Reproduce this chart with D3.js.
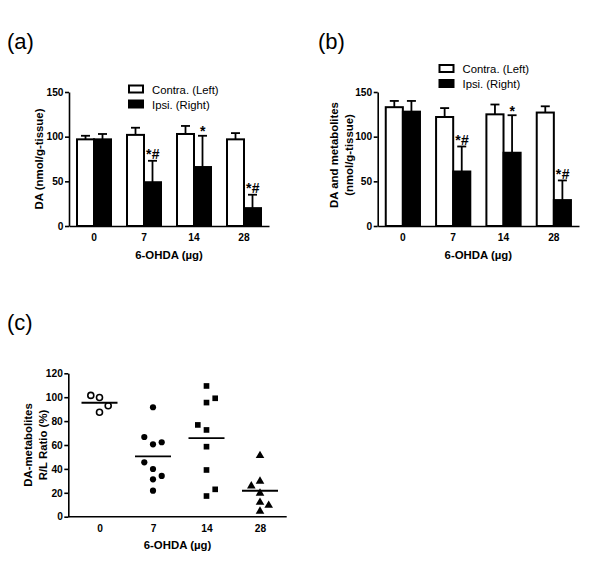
<!DOCTYPE html>
<html><head><meta charset="utf-8">
<script src="https://cdn.jsdelivr.net/npm/d3@7"></script>
<style>body{margin:0;background:#fff} svg{display:block} text{font-family:"Liberation Sans",Arial,sans-serif;fill:#000}</style>
</head><body><svg id="c" width="600" height="566"></svg>
<script>
// ---------- data ----------
const categories = ["0", "7", "14", "28"];
const seriesNames = ["Contra. (Left)", "Ipsi. (Right)"];
const barTicks = [0, 50, 100, 150];
const ratioTicks = [0, 20, 40, 60, 80, 100, 120];

// (a) DA (nmol/g-tissue), mean and upper SEM
const daContra = [97, 102, 103, 97];
const daContraErr = [4, 8, 9, 7];
const daIpsi = [97, 49, 66, 20];
const daIpsiErr = [6, 24, 35, 15];
const daMarks = ["", "*#", "*", "*#"];

// (b) DA and metabolites (nmol/g-tissue)
const totContra = [133, 122, 125, 127];
const totContraErr = [7, 10, 11, 7];
const totIpsi = [128, 61, 82, 29];
const totIpsiErr = [12, 28, 42, 22];
const totMarks = ["", "*#", "*", "*#"];

// (c) DA-metabolites R/L ratio (%) per animal
const ratio0 = [101.5, 99.7, 92.9, 87.4];
const ratio7 = [91.6, 66.7, 62.3, 60.6, 45.5, 39.9, 34.1, 31.3, 21.8];
const ratio14 = [109.4, 99.1, 95.5, 76.8, 72.6, 58.6, 39.1, 22.9, 17.3];
const ratio28 = [51.1, 29.6, 25.7, 19.6, 12.0, 9.5, 4.5];
const ratioGroups = [ratio0, ratio7, ratio14, ratio28];
const ratioMarkers = ["openCircle", "circle", "square", "triangle"];

// ---------- drawing ----------
const svg = d3.select("#c");
const FONT = '"Liberation Sans", Arial, sans-serif';
const TICK_FS = 10.2, TITLE_FS = 11.4, LEG_FS = 11.3, MARK_FS = 14;

function styleAxis(g, fs) {
  g.selectAll("path.domain").attr("stroke", "#000").attr("stroke-width", 1.6);
  g.selectAll(".tick line").attr("stroke", "#000").attr("stroke-width", 1.6);
  g.selectAll(".tick text").attr("font-family", FONT).attr("font-weight", "bold")
    .attr("font-size", fs).attr("fill", "#000");
}

function panelLabel(txt, x, y) {
  svg.append("text").attr("x", x).attr("y", y).attr("font-size", 22).text(txt);
}

function barPanel(o) {
  const y = d3.scaleLinear().domain([0, 150]).range([o.bottom, o.top]);
  const x = d3.scaleBand().domain(categories).range([o.left, o.right]);
  const bw = x.bandwidth() * 0.34;
  const g = svg.append("g");
  const c = d => x(d) + x.bandwidth() / 2;

  const series = [
    {vals: o.contra, errs: o.contraErr, off: -bw / 2, fill: "#fff"},
    {vals: o.ipsi, errs: o.ipsiErr, off: bw / 2, fill: "#000"}
  ];
  // error bars (up only)
  series.forEach(s => {
    categories.forEach((cat, i) => {
      const cx = c(cat) + s.off;
      const yt = y(s.vals[i] + s.errs[i]);
      g.append("line").attr("x1", cx).attr("x2", cx)
        .attr("y1", y(s.vals[i])).attr("y2", yt)
        .attr("stroke", "#000").attr("stroke-width", 1.8);
      g.append("line").attr("x1", cx - 4.5).attr("x2", cx + 4.5)
        .attr("y1", yt).attr("y2", yt)
        .attr("stroke", "#000").attr("stroke-width", 1.8);
    });
  });
  // bars
  series.forEach((s, si) => {
    g.selectAll(null).data(categories).join("rect")
      .attr("x", d => si === 0 ? c(d) - bw : c(d))
      .attr("width", bw)
      .attr("y", (d, i) => y(s.vals[i]))
      .attr("height", (d, i) => y(0) - y(s.vals[i]))
      .attr("fill", s.fill).attr("stroke", "#000").attr("stroke-width", 2);
  });
  // significance marks
  categories.forEach((cat, i) => {
    const m = o.marks[i];
    if (!m) return;
    const capY = y(o.ipsi[i] + o.ipsiErr[i]);
    g.append("text").attr("x", c(cat) + bw / 2 + 0.5)
      .attr("y", m.includes("#") ? capY - 1.5 : capY + 0.5)
      .attr("text-anchor", "middle").attr("font-size", MARK_FS).attr("font-weight", "bold")
      .attr("letter-spacing", 0.5)
      .text(m);
  });

  // axes
  const ya = g.append("g").attr("transform", `translate(${o.left},0)`)
    .call(d3.axisLeft(y).tickValues(barTicks).tickSize(4).tickPadding(1.5).tickSizeOuter(0));
  styleAxis(ya, TICK_FS);
  const xa = g.append("g").attr("transform", `translate(0,${o.bottom})`)
    .call(d3.axisBottom(x).tickSize(0).tickPadding(8).tickSizeOuter(0));
  styleAxis(xa, TICK_FS);

  // titles
  g.append("text").attr("x", (o.left + o.right) / 2).attr("y", o.bottom + 32.5)
    .attr("text-anchor", "middle").attr("font-weight", "bold").attr("font-size", TITLE_FS)
    .text("6-OHDA (\u00b5g)");
  o.yTitle.forEach((t, k) => {
    g.append("text").attr("transform", `translate(${o.yTitleX[k]},${o.yTitleY}) rotate(-90)`)
      .attr("text-anchor", "middle").attr("font-weight", "bold").attr("font-size", TITLE_FS).text(t);
  });

  // legend
  seriesNames.forEach((n, k) => {
    const ly = o.legY + k * 15;
    g.append("rect").attr("x", o.legX).attr("y", ly).attr("width", 14).attr("height", 7)
      .attr("fill", k === 0 ? "#fff" : "#000").attr("stroke", "#000").attr("stroke-width", 2);
    g.append("text").attr("x", o.legX + 23).attr("y", ly + 8).attr("font-size", LEG_FS).text(n);
  });
}

panelLabel("(a)", 7, 49);
barPanel({
  left: 69, right: 269, top: 92, bottom: 226,
  contra: daContra, contraErr: daContraErr, ipsi: daIpsi, ipsiErr: daIpsiErr, marks: daMarks,
  yTitle: ["DA (nmol/g-tissue)"], yTitleX: [42.5], yTitleY: 159,
  legX: 129, legY: 85.5
});

panelLabel("(b)", 318, 49);
barPanel({
  left: 377.7, right: 579, top: 92, bottom: 226,
  contra: totContra, contraErr: totContraErr, ipsi: totIpsi, ipsiErr: totIpsiErr, marks: totMarks,
  yTitle: ["DA and metabolites", "(nmol/g-tissue)"], yTitleX: [338, 353], yTitleY: 155,
  legX: 439.5, legY: 65
});

// ---------- (c) scatter ----------
panelLabel("(c)", 7, 330);
(function () {
  const left = 68.3, right = 286.7, top = 373.3, bottom = 516.7;
  const y = d3.scaleLinear().domain([0, 120]).range([bottom, top]);
  const x = d3.scalePoint().domain(categories).range([99.5, 260]);
  const lane = d3.scaleLinear().domain([0, 1]).range([0, 8.7]);
  const g = svg.append("g");
  const minGap = 7.5;

  function swarm(vals) {
    const sorted = vals.slice().sort((a, b) => a - b);
    const lanes = new Map();
    let side = 1;
    const free = (l, py) => !(lanes.get(l) || []).some(q => Math.abs(q - py) < minGap);
    return sorted.map(v => {
      const py = y(v);
      let l = 0;
      if (!free(0, py)) {
        for (let k = 1; k < 6; k++) {
          if (free(side * k, py)) { l = side * k; break; }
          if (free(-side * k, py)) { l = -side * k; break; }
        }
        side = -side;
      }
      if (!lanes.has(l)) lanes.set(l, []);
      lanes.get(l).push(py);
      return {v, l};
    });
  }

  ratioGroups.forEach((vals, gi) => {
    const cx = x(categories[gi]);
    const pts = swarm(vals);
    const type = ratioMarkers[gi];
    pts.forEach(p => {
      const px = cx + lane(p.l), py = y(p.v);
      if (type === "openCircle") {
        g.append("circle").attr("cx", px).attr("cy", py).attr("r", 3)
          .attr("fill", "#fff").attr("stroke", "#000").attr("stroke-width", 1.6);
      } else if (type === "circle") {
        g.append("circle").attr("cx", px).attr("cy", py).attr("r", 3.1).attr("fill", "#000");
      } else if (type === "square") {
        g.append("path").attr("transform", `translate(${px},${py})`)
          .attr("d", d3.symbol(d3.symbolSquare, 32)()).attr("fill", "#000");
      } else {
        g.append("path").attr("transform", `translate(${px},${py})`)
          .attr("d", d3.symbol(d3.symbolTriangle, 32)()).attr("fill", "#000");
      }
    });
    const m = d3.mean(vals);
    g.append("line").attr("x1", cx - 18).attr("x2", cx + 18)
      .attr("y1", y(m)).attr("y2", y(m)).attr("stroke", "#000").attr("stroke-width", 1.8);
  });

  const ya = g.append("g").attr("transform", `translate(${left},0)`)
    .call(d3.axisLeft(y).tickValues(ratioTicks).tickSize(4).tickPadding(1.5).tickSizeOuter(0));
  styleAxis(ya, TICK_FS);
  const xa = g.append("g").attr("transform", `translate(0,${bottom})`)
    .call(d3.axisBottom(x).tickSize(0).tickPadding(8).tickSizeOuter(0));
  xa.select("path.domain").remove();
  styleAxis(xa, TICK_FS);
  g.append("line").attr("x1", left).attr("x2", right).attr("y1", bottom).attr("y2", bottom)
    .attr("stroke", "#000").attr("stroke-width", 1.6);

  g.append("text").attr("x", (left + right) / 2).attr("y", bottom + 32)
    .attr("text-anchor", "middle").attr("font-weight", "bold").attr("font-size", TITLE_FS)
    .text("6-OHDA (\u00b5g)");
  [["DA-metabolites", 31.5], ["R/L Ratio (%)", 47]].forEach(([t, tx]) => {
    g.append("text").attr("transform", `translate(${tx},${(top + bottom) / 2}) rotate(-90)`)
      .attr("text-anchor", "middle").attr("font-weight", "bold").attr("font-size", TITLE_FS).text(t);
  });
})();
</script>
</body></html>
